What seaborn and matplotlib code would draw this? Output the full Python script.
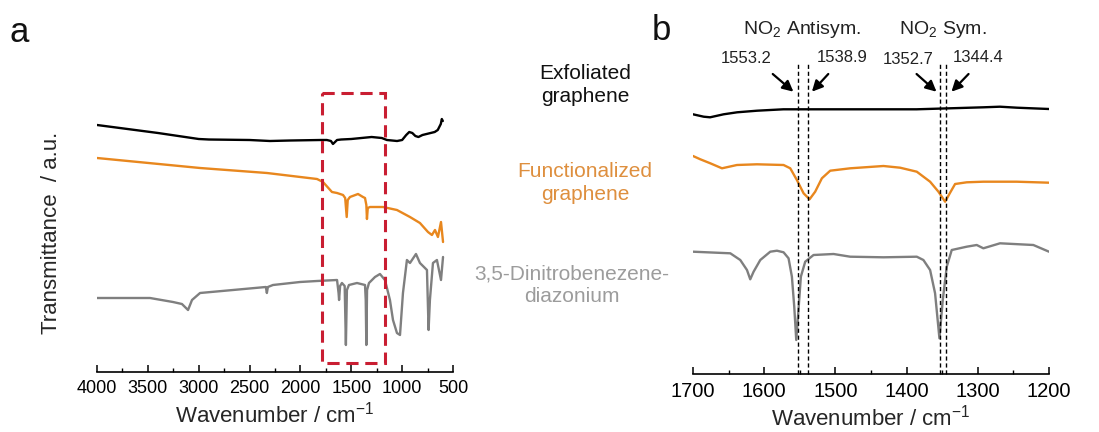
import numpy as np
import pandas as pd
import matplotlib
matplotlib.use("Agg")
import matplotlib.pyplot as plt
from matplotlib.patches import Rectangle
from matplotlib.ticker import MultipleLocator
import seaborn as sns

# ---------------- data (y in arbitrary transmittance units, larger = lower on page) ----
# Panel a: full range
a_exf_wn = [4000, 3700, 3400, 3000, 2900, 2500, 2300, 2100, 1800, 1740, 1700, 1680, 1660, 1640, 1600,
            1500, 1400, 1300, 1200, 1150, 1100, 1050, 1000, 960, 930, 900, 870, 840, 800, 760, 720,
            680, 650, 640, 620, 610, 600]
a_exf_y = [125, 129, 133, 139, 139.5, 140, 141, 140.5, 140, 140, 141, 144, 142, 140, 139.5,
           139, 138, 137, 138, 140, 140.5, 141, 140, 135, 132, 133, 136, 137, 135, 134, 133,
           132, 130, 128, 124, 119, 121]

a_fun_wn = [4000, 2987, 2329, 1837, 1778, 1690, 1640, 1581, 1560, 1545, 1535, 1513, 1434, 1385, 1365,
            1352, 1346, 1338, 1316, 1188, 1051, 923, 825, 746, 707, 677, 648, 618, 598]
a_fun_y = [158, 168, 173, 179, 182, 192, 193, 195, 198, 217, 200, 197, 194, 197, 198,
           205, 219, 208, 207, 207, 210, 217, 223, 232, 235, 230, 237, 222, 242]

a_dnb_wn = [4000, 3479, 3253, 3165, 3105, 3066, 2987, 2663, 2340, 2330, 2320, 2270, 2004, 1837, 1640,
            1625, 1620, 1610, 1592, 1565, 1553, 1543, 1523, 1444, 1365, 1358, 1352, 1345, 1326, 1267,
            1218, 1169, 1120, 1090, 1051, 1021, 992, 953, 923, 864, 825, 756, 740, 727, 697, 658,
            618, 598]
a_dnb_y = [298, 298, 302, 304, 310, 300, 293, 290, 287, 293, 287, 285, 282, 281, 280,
           293, 300, 286, 283, 286, 345, 290, 285, 283, 285, 300, 345, 290, 283, 277,
           274, 280, 300, 320, 333, 335, 293, 260, 263, 254, 263, 270, 330, 300, 263, 260,
           280, 257]

# Panel b: 1700-1200 zoom
b_exf_wn = [1700, 1685, 1676, 1657, 1638, 1610, 1573, 1479, 1386, 1339, 1292, 1269, 1245, 1200]
b_exf_y = [114.3, 116.7, 117.3, 114.3, 112.3, 110.7, 109.3, 109.3, 109.3, 108.3, 107.3, 106.7, 107.7, 109]

b_fun_wn = [1700, 1689.7, 1675.7, 1659.3, 1638.3, 1610.2, 1572.8, 1563.4, 1554.1, 1544.7, 1536.3,
            1528.4, 1519.0, 1507.3, 1479.2, 1432.5, 1409.1, 1385.7, 1367.0, 1355.3, 1345.9,
            1338.9, 1331.9, 1315.6, 1292.2, 1245.4, 1200]
b_fun_y = [156.0, 159.3, 163.3, 168.3, 165.0, 164.3, 165.0, 168.3, 180.0, 193.3, 199.3,
           191.7, 178.3, 170.7, 168.3, 166.0, 167.7, 171.7, 181.7, 191.7, 201.7,
           192.7, 184.0, 182.3, 181.7, 181.7, 182.7]

b_dnb_wn = [1700, 1647.6, 1633.6, 1624.2, 1619.6, 1614.9, 1605.5, 1591.5, 1582.1, 1572.8, 1565.8,
            1561.1, 1557.8, 1555.0, 1552.2, 1548.5, 1542.4, 1530.7, 1502.6, 1479.2, 1432.5,
            1385.7, 1376.4, 1367.0, 1360.0, 1353.9, 1349.2, 1343.6, 1336.6, 1315.6, 1301.5,
            1292.2, 1268.8, 1222.0, 1200]
b_dnb_y = [251.7, 253.3, 260.0, 270.0, 279.3, 271.7, 260.0, 251.7, 250.7, 252.3, 258.3,
           276.7, 306.7, 340.0, 313.3, 276.7, 261.7, 255.0, 254.0, 256.7, 257.3,
           256.7, 260.0, 270.0, 293.3, 338.3, 300.0, 266.7, 250.0, 246.7, 245.0,
           248.3, 243.3, 245.0, 251.7]

peak_positions = [1553.2, 1538.9, 1352.7, 1344.4]
peak_labels = ["1553.2", "1538.9", "1352.7", "1344.4"]
band_labels = ["NO$_2$ Antisym.", "NO$_2$ Sym."]
series_names = ["Exfoliated\ngraphene", "Functionalized\ngraphene", "3,5-Dinitrobenezene-\ndiazonium"]
zoom_box = (1790, 1170)

# ---------------- style ----------------
sns.set_style("white", {"xtick.bottom": True, "xtick.direction": "in"})
plt.rcParams["font.family"] = ["Liberation Sans", "DejaVu Sans"]
plt.rcParams["mathtext.fontset"] = "custom"
plt.rcParams["mathtext.rm"] = "Liberation Sans"
plt.rcParams["xtick.bottom"] = True
plt.rcParams["xtick.minor.visible"] = True

BLACK = "#000000"
ORANGE = "#E8871E"
GRAY = "#7F7F7F"
ORANGE_TXT = "#DE8F3E"
GRAY_TXT = "#9C9C9C"

W, H = 1099, 432
fig = plt.figure(figsize=(W / 100, H / 100), dpi=100)

def fx(px):
    return px / W

def fy(py):
    return 1 - py / H

axa = fig.add_axes([fx(97), fy(372), fx(453) - fx(97), fy(60) - fy(372)])
axb = fig.add_axes([fx(693), fy(374), fx(1049) - fx(693), fy(60) - fy(374)])

def draw(ax, wn, y, color):
    df = pd.DataFrame({"wn": wn, "y": y})
    sns.lineplot(data=df, x="wn", y="y", ax=ax, color=color, lw=1.7, sort=False,
                 estimator=None, legend=False)

draw(axa, a_exf_wn, a_exf_y, BLACK)
draw(axa, a_fun_wn, a_fun_y, ORANGE)
draw(axa, a_dnb_wn, a_dnb_y, GRAY)
draw(axb, b_exf_wn, b_exf_y, BLACK)
draw(axb, b_fun_wn, b_fun_y, ORANGE)
draw(axb, b_dnb_wn, b_dnb_y, GRAY)

axa.set_xlim(4000, 500)
axa.set_ylim(372, 60)
axb.set_xlim(1700, 1200)
axb.set_ylim(374, 60)

for ax, major, minor, tfs, lp in [(axa, 500, 250, 13, 3), (axb, 100, 50, 14.5, 2)]:
    for s in ["left", "right", "top"]:
        ax.spines[s].set_visible(False)
    ax.spines["bottom"].set_color("black")
    ax.spines["bottom"].set_linewidth(1.2)
    ax.xaxis.set_major_locator(MultipleLocator(major))
    ax.xaxis.set_minor_locator(MultipleLocator(minor))
    ax.tick_params(axis="x", which="major", direction="in", length=5, width=1.1,
                   labelsize=tfs, colors="black", pad=6, bottom=True)
    ax.tick_params(axis="x", which="minor", direction="in", length=3, width=1.0,
                   colors="black", bottom=True)
    ax.set_yticks([])
    ax.set_xlabel("Wavenumber / cm$^{-1}$", fontsize=16, labelpad=lp)
    ax.set_ylabel("")
    ax.patch.set_alpha(0)

axa.set_ylabel("Transmittance  / a.u.", fontsize=16)
axa.yaxis.set_label_coords(-0.098, 0.446)

# zoom box on panel a
axa.add_patch(Rectangle((zoom_box[0], 93), zoom_box[1] - zoom_box[0], 363 - 93,
                        fill=False, edgecolor="#C91E32", lw=2.2, ls=(0, (4, 2.2)),
                        clip_on=False, zorder=5))

# dashed markers on panel b
axb.vlines(peak_positions, 374, 63, colors="black", lw=1.0, linestyles=(0, (3, 2)), clip_on=False)

arrow_tails = [(1588, 74), (1510, 74), (1386, 74), (1313, 74)]
arrow_heads = [(1559, 91.7), (1533, 91.7), (1358, 91.7), (1337, 91.7)]
for t, h in zip(arrow_tails, arrow_heads):
    axb.annotate("", xy=h, xytext=t, xycoords="data", textcoords="data",
                 arrowprops=dict(arrowstyle="-|>", color="black", lw=1.6, mutation_scale=16,
                                 shrinkA=0, shrinkB=0), annotation_clip=False)

label_x = [1625, 1491, 1398, 1299]
label_y = [58.3, 58, 60, 58]
for lx, ly, txt in zip(label_x, label_y, peak_labels):
    axb.text(lx, ly, txt, ha="center", va="center", fontsize=12, color="#222222", clip_on=False)

for bx, txt in zip([1547, 1349], band_labels):
    axb.text(bx, 30, txt, ha="center", va="center", fontsize=14, color="#222222", clip_on=False)

# series labels between panels
fig.text(fx(585), fy(85), series_names[0], ha="center", va="center", fontsize=15,
         color="#111111", linespacing=1.25)
fig.text(fx(585), fy(183), series_names[1], ha="center", va="center", fontsize=15,
         color=ORANGE_TXT, linespacing=1.25)
fig.text(fx(572), fy(285), series_names[2], ha="center", va="center", fontsize=15,
         color=GRAY_TXT, linespacing=1.25)

fig.text(fx(19), fy(32), "a", ha="center", va="center", fontsize=25, color="#111111")
fig.text(fx(661), fy(31), "b", ha="center", va="center", fontsize=25, color="#111111")

fig.savefig("out.png", dpi=100, facecolor="white")
